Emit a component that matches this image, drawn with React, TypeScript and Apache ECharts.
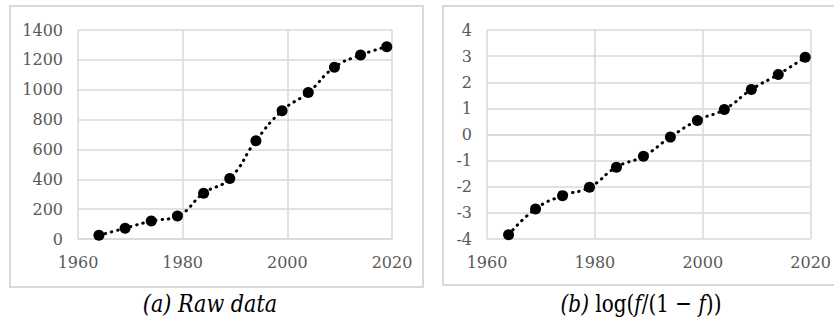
import React, { useEffect, useRef } from "react";
import * as echarts from "echarts";

const years = [1964, 1969, 1974, 1979, 1984, 1989, 1994, 1999, 2004, 2009, 2014, 2019];
const rawValues = [25, 72, 120, 154, 306, 406, 658, 859, 982, 1150, 1232, 1288];
const logitValues = [-3.84, -2.85, -2.34, -2.02, -1.25, -0.83, -0.1, 0.54, 0.96, 1.72, 2.3, 2.96];
const captionA = "(a) Raw data";
const captionB = "{i|(b)} log({i|f}/(1 \u2212 {i|f}))";

const FONT = "DejaVu Serif";
const GRID_COLOR = "#d9d9d9";
const LABEL_COLOR = "#595959";

function xAxisCfg(gridIndex: number) {
  return {
    type: "value",
    gridIndex,
    min: 1960,
    max: 2020,
    interval: 20,
    axisLine: { show: true, lineStyle: { color: GRID_COLOR, width: 1.5 } },
    axisTick: { show: false },
    splitLine: { show: true, lineStyle: { color: GRID_COLOR, width: 1.5 } },
    axisLabel: {
      color: LABEL_COLOR,
      fontFamily: FONT,
      fontSize: 16,
      margin: 15,
      formatter: (v: number) => String(v),
    },
  };
}

function yAxisCfg(gridIndex: number, min: number, max: number, interval: number) {
  return {
    type: "value",
    gridIndex,
    min,
    max,
    interval,
    axisLine: { show: false },
    axisTick: { show: false },
    splitLine: { show: true, lineStyle: { color: GRID_COLOR, width: 1.5 } },
    axisLabel: {
      color: LABEL_COLOR,
      fontFamily: FONT,
      fontSize: 16,
      margin: 15,
      formatter: (v: number) => String(v),
    },
  };
}

function seriesCfg(idx: number, values: number[]) {
  return {
    type: "line",
    xAxisIndex: idx,
    yAxisIndex: idx,
    data: years.map((y, i) => [y, values[i]]),
    smooth: 0.5,
    symbol: "circle",
    symbolSize: 11,
    itemStyle: { color: "#000" },
    lineStyle: { color: "#000", width: 3, type: [0.5, 6], cap: "round" },
    z: 3,
  };
}

export default function App() {
  const ref = useRef<HTMLDivElement>(null);
  useEffect(() => {
    if (!ref.current) return;
    const chart = echarts.init(ref.current, undefined, { renderer: "svg" });
    chart.setOption({
      animation: false,
      backgroundColor: "#fff",
      textStyle: { fontFamily: FONT },
      grid: [
        { left: 78, top: 30, width: 314, height: 209 },
        { left: 487, top: 30, width: 331, height: 209 },
      ],
      xAxis: [xAxisCfg(0), xAxisCfg(1)],
      yAxis: [yAxisCfg(0, 0, 1400, 200), yAxisCfg(1, -4, 4, 1)],
      series: [seriesCfg(0, rawValues), seriesCfg(1, logitValues)],
      graphic: [
        {
          type: "rect",
          shape: { x: 10, y: 6, width: 413, height: 281 },
          style: { fill: "none", stroke: GRID_COLOR, lineWidth: 2 },
          z: -10,
          silent: true,
        },
        {
          type: "rect",
          shape: { x: 443, y: 6, width: 420, height: 279 },
          style: { fill: "none", stroke: GRID_COLOR, lineWidth: 2 },
          z: -10,
          silent: true,
        },
        {
          type: "text",
          x: 210,
          y: 303,
          scaleX: 0.83,
          style: {
            text: captionA,
            fontFamily: FONT,
            fontStyle: "italic",
            fontSize: 25,
            fill: "#000",
            align: "center",
            verticalAlign: "middle",
          },
        },
        {
          type: "text",
          x: 641,
          y: 303,
          scaleX: 0.8,
          style: {
            text: captionB,
            fontFamily: FONT,
            fontSize: 25,
            fill: "#000",
            align: "center",
            verticalAlign: "middle",
            rich: {
              i: { fontFamily: FONT, fontStyle: "italic", fontSize: 25, fill: "#000" },
            },
          },
        },
      ],
    });
    return () => chart.dispose();
  }, []);
  return (
    <div
      ref={ref}
      style={{ position: "fixed", left: 0, top: 0, width: 834, height: 321 }}
    />
  );
}
